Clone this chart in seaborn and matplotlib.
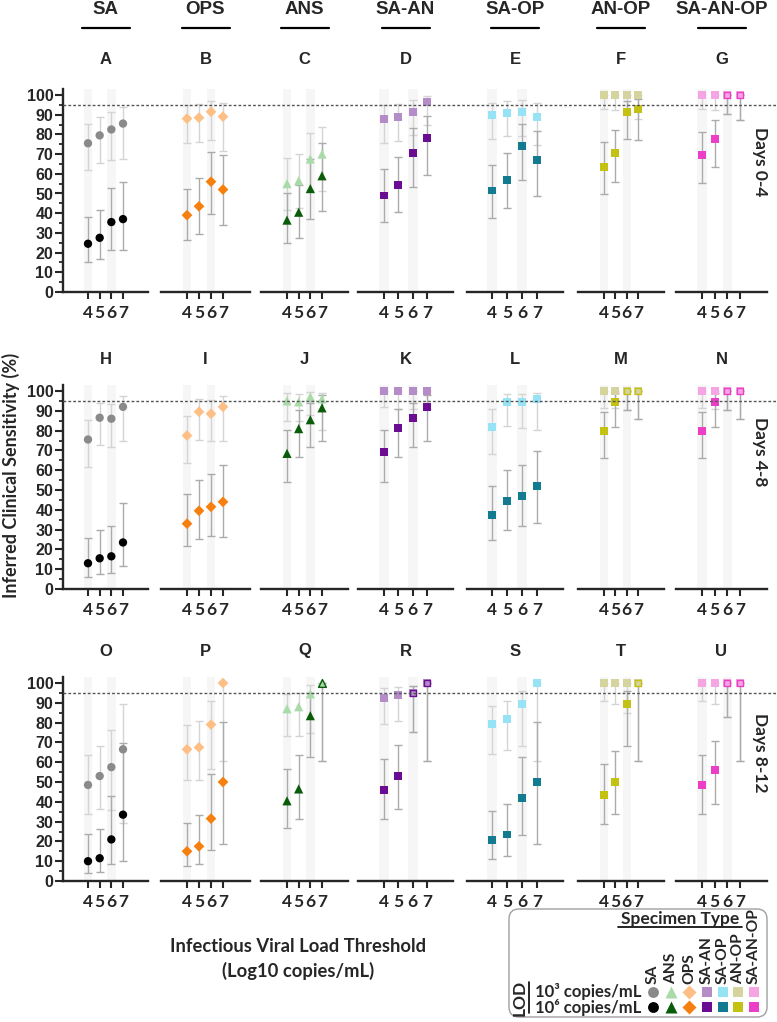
import numpy as np
import pandas as pd
import matplotlib
matplotlib.use("Agg")
import matplotlib.pyplot as plt
import seaborn as sns
from matplotlib.patches import FancyBboxPatch

sns.set_style("ticks")
plt.rcParams['font.family'] = ['Liberation Sans', 'DejaVu Sans']
CAL = ['Lato', 'DejaVu Sans']

thresholds = [4, 5, 6, 7]
periods = ["Days 0-4", "Days 4-8", "Days 8-12"]
specimens = ["SA", "OPS", "ANS", "SA-AN", "SA-OP", "AN-OP", "SA-AN-OP"]
letters = ["ABCDEFG", "HIJKLMN", "OPQRSTU"]

# each list: one row per period (0-4, 4-8, 8-12), one value per threshold (4..7)
# LOD 10^3 copies/mL
sa_est_1e3 = [[75.5, 79.5, 82.5, 85.5], [75.5, 86.5, 86, 92], [48.5, 53, 57.5, 66.5]]
sa_lo_1e3 = [[62, 65.5, 67, 67.5], [61.5, 72.5, 71.5, 75], [34, 36.5, 36, 29.5]]
sa_hi_1e3 = [[85.5, 89, 91.5, 94], [85.5, 94, 93.5, 97.5], [63.5, 68, 76.5, 89.5]]
ops_est_1e3 = [[88, 88.5, 91.5, 89], [77.5, 89.5, 88.5, 92], [66.5, 67.5, 79, 100]]
ops_lo_1e3 = [[75.5, 76, 77, 71.5], [63.5, 75.5, 74.5, 75], [51, 51, 56.5, 60.5]]
ops_hi_1e3 = [[95, 95.5, 97, 96], [87.5, 96, 95.5, 97.5], [79, 81, 91, 100]]
ans_est_1e3 = [[55, 56.5, 67.5, 70], [95, 94.5, 97, 96], [87, 88, 94.5, 100]]
ans_lo_1e3 = [[41.5, 42.5, 52, 51.5], [85, 85, 88, 80.5], [73, 73, 75, 60.5]]
ans_hi_1e3 = [[68, 70, 80.5, 84], [99, 98.5, 99.5, 99], [94.5, 95, 99, 100]]
saan_est_1e3 = [[88, 89, 91.5, 96.5], [100, 100, 100, 100], [92.5, 94, 95, 100]]
saan_lo_1e3 = [[75.5, 76.5, 79.5, 85], [92, 91, 91, 91], [79.5, 81, 75.5, 60.5]]
saan_hi_1e3 = [[95, 95.5, 97.5, 99.5], [100, 100, 100, 100], [97.5, 98, 98.5, 100]]
saop_est_1e3 = [[90, 91, 91.5, 89], [82, 94.5, 94.5, 96], [79.5, 82, 89.5, 100]]
saop_lo_1e3 = [[77.5, 79, 79, 74.5], [68, 82.5, 81.5, 80.5], [64, 66, 68, 60.5]]
saop_hi_1e3 = [[96, 97, 97.5, 96], [91, 98.5, 98.5, 99], [88.5, 91, 96, 100]]
anop_est_1e3 = [[100, 100, 100, 100], [100, 100, 100, 100], [100, 100, 100, 100]]
anop_lo_1e3 = [[93, 92.5, 91, 88], [91.5, 91.5, 90.5, 86], [91, 89.5, 85, 60.5]]
anop_hi_1e3 = [[100, 100, 100, 100], [100, 100, 100, 100], [100, 100, 100, 100]]
saanop_est_1e3 = [[100, 100, 100, 100], [100, 100, 100, 100], [100, 100, 100, 100]]
saanop_lo_1e3 = [[93, 92.5, 90.5, 87.5], [91.5, 91, 90.5, 86], [91, 89.5, 83, 60.5]]
saanop_hi_1e3 = [[100, 100, 100, 100], [100, 100, 100, 100], [100, 100, 100, 100]]

# LOD 10^6 copies/mL
sa_est_1e6 = [[24.5, 27.5, 35.5, 37], [13, 15.5, 16.5, 23.5], [10, 11.5, 21, 33.5]]
sa_lo_1e6 = [[15, 16.5, 21.5, 21.5], [6, 7.5, 8, 11.5], [4, 4.5, 8.5, 10]]
sa_hi_1e6 = [[38, 41.5, 53, 56], [26, 30, 32, 43.5], [23.5, 26.5, 43, 69.5]]
ops_est_1e6 = [[39, 43.5, 56, 52], [33, 39.5, 41.5, 44], [15, 17.5, 31.5, 50]]
ops_lo_1e6 = [[26.5, 29.5, 39.5, 34], [21.5, 25.5, 27, 26.5], [7.5, 8.5, 15.5, 18.5]]
ops_hi_1e6 = [[52.5, 58, 71, 69.5], [48, 55, 58, 62.5], [29.5, 33.5, 54, 80.5]]
ans_est_1e6 = [[36.5, 40.5, 52.5, 59], [68.5, 81, 85.5, 91.5], [40.5, 46.5, 83.5, 100]]
ans_lo_1e6 = [[25, 27.5, 37, 41], [54, 66.5, 71.5, 75], [27, 31.5, 62.5, 60.5]]
ans_hi_1e6 = [[50.5, 54.5, 67.5, 75.5], [80.5, 90.5, 94, 98], [56.5, 63.5, 95, 100]]
saan_est_1e6 = [[49, 54.5, 70.5, 78], [69, 81.5, 86.5, 92], [46, 53, 95, 100]]
saan_lo_1e6 = [[35.5, 40.5, 53.5, 59.5], [54, 66.5, 71.5, 75], [31.5, 36.5, 75.5, 60.5]]
saan_hi_1e6 = [[62.5, 68.5, 83, 89.5], [80.5, 91, 94, 98], [61.5, 68.5, 98.5, 100]]
saop_est_1e6 = [[51.5, 57, 74, 67], [37.5, 44.5, 47, 52], [20.5, 23.5, 42, 50]]
saop_lo_1e6 = [[37.5, 42.5, 57, 48.5], [25, 30, 32, 33.5], [11, 12.5, 23, 18.5]]
saop_hi_1e6 = [[64.5, 70.5, 85.5, 81.5], [52, 60, 62.5, 69.5], [35.5, 39, 62.5, 80.5]]
anop_est_1e6 = [[63.5, 70.5, 91.5, 93], [80, 94.5, 100, 100], [43.5, 50, 89.5, 100]]
anop_lo_1e6 = [[49.5, 56, 77.5, 77], [66, 82, 90.5, 86], [29, 34, 68, 60.5]]
anop_hi_1e6 = [[76, 82, 97, 98], [89.5, 99, 100, 100], [59, 65.5, 96, 100]]
saanop_est_1e6 = [[69.5, 77.5, 100, 100], [80, 94.5, 100, 100], [48.5, 56, 100, 100]]
saanop_lo_1e6 = [[55.5, 63.5, 90.5, 87.5], [66, 82, 90.5, 86], [34, 39, 83, 60.5]]
saanop_hi_1e6 = [[81, 87.5, 100, 100], [89.5, 99, 100, 100], [63.5, 70.5, 100, 100]]

series = {
    "SA": (sa_est_1e3, sa_lo_1e3, sa_hi_1e3, sa_est_1e6, sa_lo_1e6, sa_hi_1e6),
    "OPS": (ops_est_1e3, ops_lo_1e3, ops_hi_1e3, ops_est_1e6, ops_lo_1e6, ops_hi_1e6),
    "ANS": (ans_est_1e3, ans_lo_1e3, ans_hi_1e3, ans_est_1e6, ans_lo_1e6, ans_hi_1e6),
    "SA-AN": (saan_est_1e3, saan_lo_1e3, saan_hi_1e3, saan_est_1e6, saan_lo_1e6, saan_hi_1e6),
    "SA-OP": (saop_est_1e3, saop_lo_1e3, saop_hi_1e3, saop_est_1e6, saop_lo_1e6, saop_hi_1e6),
    "AN-OP": (anop_est_1e3, anop_lo_1e3, anop_hi_1e3, anop_est_1e6, anop_lo_1e6, anop_hi_1e6),
    "SA-AN-OP": (saanop_est_1e3, saanop_lo_1e3, saanop_hi_1e3, saanop_est_1e6, saanop_lo_1e6, saanop_hi_1e6),
}

light = {"SA": "#8a8a8a", "OPS": "#fdbf86", "ANS": "#a9dba9", "SA-AN": "#b48cc8",
         "SA-OP": "#95e3f5", "AN-OP": "#d6d49e", "SA-AN-OP": "#f4a5e2"}
dark = {"SA": "#000000", "OPS": "#f5800f", "ANS": "#0a5c0a", "SA-AN": "#6b0d92",
        "SA-OP": "#127b90", "AN-OP": "#c3c112", "SA-AN-OP": "#ec3fc8"}
markers = {"SA": "o", "OPS": "D", "ANS": "^"}
sizes = {"o": 36, "D": 30, "^": 44, "s": 32}

# long table
rows = []
for sp, (e3, l3, h3, e6, l6, h6) in series.items():
    for p, period in enumerate(periods):
        for i, t in enumerate(thresholds):
            rows.append(dict(specimen=sp, period=period, lod="1e3", threshold=t,
                             est=e3[p][i], lo=l3[p][i], hi=h3[p][i], hollow=False))
            rows.append(dict(specimen=sp, period=period, lod="1e6", threshold=t,
                             est=e6[p][i], lo=l6[p][i], hi=h6[p][i],
                             hollow=abs(e6[p][i] - e3[p][i]) < 0.6))
df = pd.DataFrame(rows)

W, H = 777, 1022
fig = plt.figure(figsize=(W / 100, H / 100), dpi=100)

# panel geometry in pixels: axis left, right, tick 4, tick 7
cols_px = [(63, 148, 88, 123), (161, 250, 187, 223), (261, 348, 287, 322),
           (358, 453, 384, 427), (467, 563, 492, 537), (578, 664, 604, 638),
           (676, 767, 702, 740)]
rows_px = [(292, 95), (589, 391), (881, 683)]
letter_y = [59, 359, 651]
days_y = [162, 452, 753]
YTOP = 103

for r, period in enumerate(periods):
    y0, y100 = rows_px[r]
    ppy = (y0 - y100) / 100
    ytop = y0 - YTOP * ppy
    for c, sp in enumerate(specimens):
        left, right, x4, x7 = cols_px[c]
        ppx = (x7 - x4) / 3
        ax = fig.add_axes([left / W, 1 - y0 / H, (right - left) / W, (y0 - ytop) / H])
        ax.patch.set_alpha(0)
        ax.set_xlim(4 + (left - x4) / ppx, 4 + (right - x4) / ppx)
        ax.set_ylim(0, YTOP)
        for t in (4, 6):
            ax.axvspan(t - 0.36, t + 0.36, color="#f6f6f6", lw=0, zorder=0)

        sub = df[(df.specimen == sp) & (df.period == period)]
        for lod, ec in (("1e3", "#d4d4d4"), ("1e6", "#ababab")):
            s = sub[sub.lod == lod]
            ax.errorbar(s.threshold, s.est, yerr=[s.est - s.lo, s.hi - s.est], fmt="none",
                        ecolor=ec, elinewidth=1, capsize=3, capthick=1, zorder=2)
        m = markers.get(sp, "s")
        sns.scatterplot(data=sub[~sub.hollow], x="threshold", y="est", hue="lod",
                        hue_order=["1e3", "1e6"], palette=[light[sp], dark[sp]],
                        marker=m, s=sizes[m], linewidth=0, legend=False, ax=ax, zorder=3)
        hol = sub[sub.hollow]
        if len(hol):
            ax.scatter(hol.threshold, hol.est, marker=m, s=sizes[m] * 0.7, facecolors=light[sp],
                       edgecolors=dark[sp], linewidths=1, zorder=4)

        ax.set_xlabel("")
        ax.set_ylabel("")
        ax.set_xticks(thresholds)
        ax.set_xticklabels([str(t) for t in thresholds], fontfamily=CAL,
                           fontweight="bold", fontsize=12.5)
        ax.tick_params(axis="x", length=5, width=1.5, pad=4)
        sns.despine(ax=ax, left=(c != 0))
        ax.spines["bottom"].set_linewidth(1.7)
        if c == 0:
            ax.spines["left"].set_linewidth(1.7)
            ax.set_yticks(np.arange(0, 101, 10))
            ax.set_yticks(np.arange(5, 100, 10), minor=True)
            ax.set_yticklabels([str(v) for v in range(0, 101, 10)],
                               fontweight="bold", fontsize=11.5)
            ax.tick_params(axis="y", which="major", length=6, width=1.5, pad=1)
            ax.tick_params(axis="y", which="minor", length=3, width=1.3)
        else:
            ax.set_yticks([])

# overlay for labels and legend, pixel coordinates
ov = fig.add_axes([0, 0, 1, 1], zorder=10)
ov.set_xlim(0, W)
ov.set_ylim(H, 0)
ov.axis("off")
ov.patch.set_alpha(0)

# 95% reference line across each row
for y0, y100 in rows_px:
    y95 = y0 - 0.95 * (y0 - y100)
    ov.plot([cols_px[0][0], W], [y95, y95], color="#555555", lw=1, ls=(0, (2, 1.5)))

for c, sp in enumerate(specimens):
    left, right = cols_px[c][:2]
    cx = (left + right) / 2
    ov.text(cx, 10, sp, ha="center", va="center", fontsize=13.5, fontweight="bold")
    ov.plot([cx - 24, cx + 24], [28, 28], color="black", lw=1.6)
    for r in range(3):
        ov.text(cx, letter_y[r], letters[r][c], ha="center", va="center",
                fontsize=12, fontweight="bold")

for r, period in enumerate(periods):
    ov.text(760, days_y[r], period, rotation=270, ha="center", va="center",
            fontsize=12.5, fontweight="bold", family=CAL)

ov.text(11, 475, "Inferred Clinical Sensitivity (%)", rotation=90, ha="center", va="center",
        fontsize=13, fontweight="bold", family=CAL)
ov.text(298, 947, "Infectious Viral Load Threshold", ha="center", va="center",
        fontsize=13.2, fontweight="bold", family=CAL)
ov.text(298, 971, "(Log10 copies/mL)", ha="center", va="center",
        fontsize=13.2, fontweight="bold", family=CAL)

# legend box
ov.add_patch(FancyBboxPatch((509, 909), 258, 108, boxstyle="round,pad=0,rounding_size=10",
                            fc="white", ec="#a0a0a0", lw=1))
ov.text(680, 919, "Specimen Type", ha="center", va="center", fontsize=12.5,
        fontweight="bold", family=CAL)
ov.plot([618, 742], [927.5, 927.5], color="black", lw=1.2)
leg_order = ["SA", "ANS", "OPS", "SA-AN", "SA-OP", "AN-OP", "SA-AN-OP"]
leg_x = [653, 671, 689, 707, 723, 738, 754]
for x, sp in zip(leg_x, leg_order):
    ov.text(x, 984, sp, rotation=90, ha="center", va="bottom", fontsize=11.2,
            fontweight="bold", family=CAL)
    m = markers.get(sp, "s")
    ov.scatter([x], [992], marker=m, s=sizes[m] * 1.7, color=light[sp], lw=0)
    ov.scatter([x], [1007], marker=m, s=sizes[m] * 1.7, color=dark[sp], lw=0)
ov.text(535, 992, "10³ copies/mL", ha="left", va="center", fontsize=12,
        fontweight="bold", family=CAL)
ov.text(535, 1007, "10⁶ copies/mL", ha="left", va="center", fontsize=12,
        fontweight="bold", family=CAL)
ov.text(520, 998, "LOD", rotation=90, ha="center", va="center", fontsize=12.5,
        fontweight="bold", family=CAL)
ov.plot([529, 529], [982, 1013], color="black", lw=1.2)

fig.savefig("out.png", dpi=100)
